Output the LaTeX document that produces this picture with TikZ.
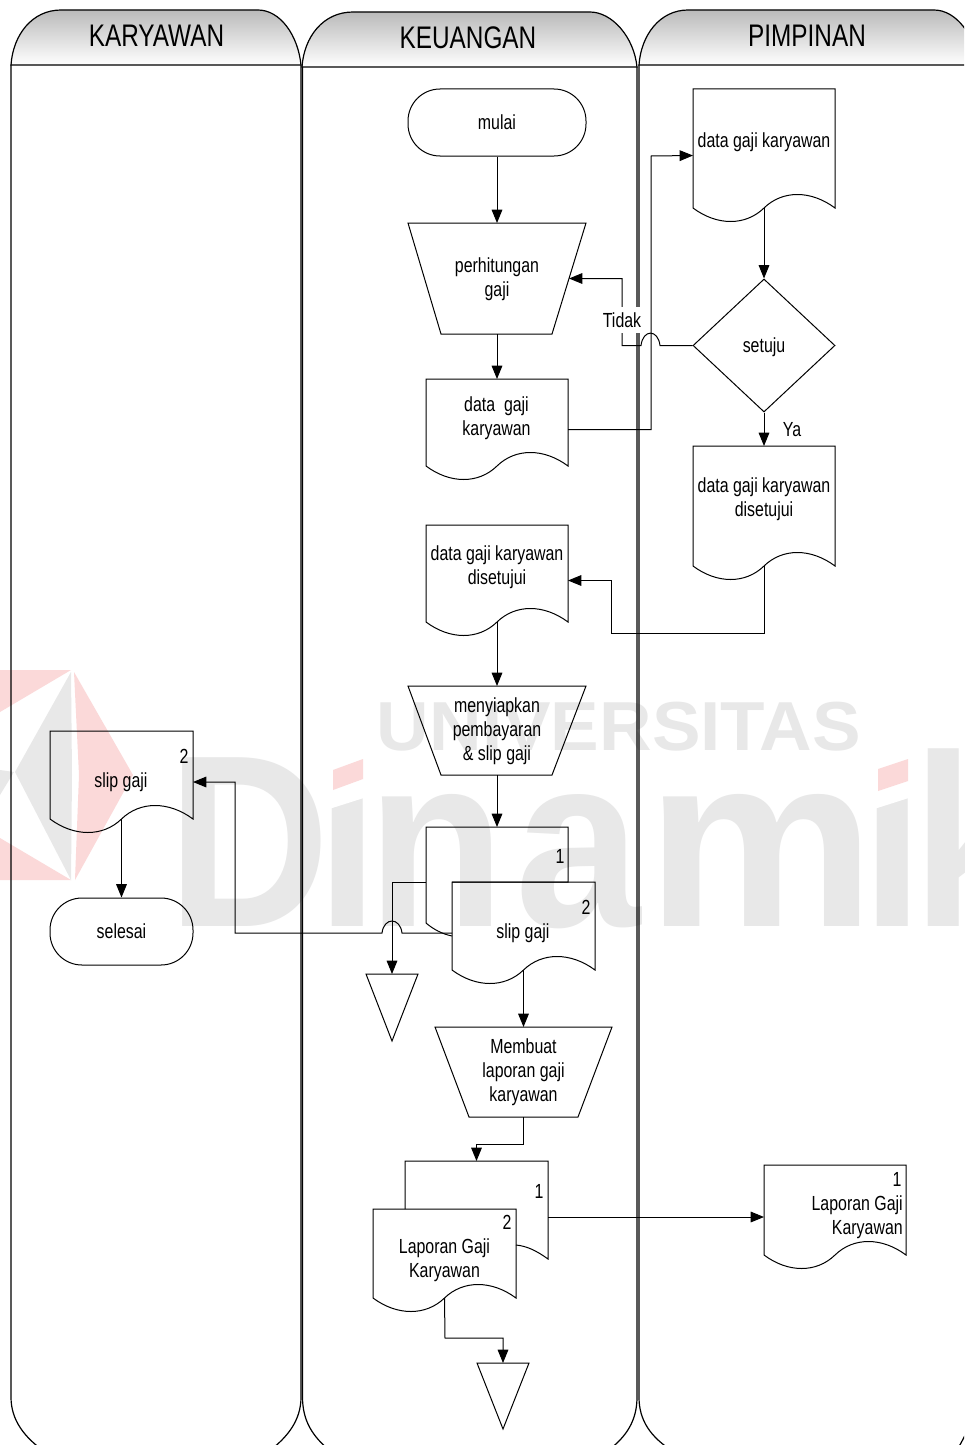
\documentclass[tikz,border=0pt]{standalone}
\usepackage{fontspec}
\usetikzlibrary{arrows.meta,shapes.geometric}
\setmainfont[FakeStretch=0.78]{Liberation Sans}
\newfontfamily\wmfont[FakeStretch=0.92]{Liberation Sans}
\newfontfamily\wmfontb[FakeStretch=1.05]{Liberation Sans}
\newcommand\lblfont{\fontsize{15.3}{18}\selectfont}
\newcommand\headfont{\fontsize{23.4}{26}\selectfont}
\definecolor{wmgray}{HTML}{E8E8E8}
\definecolor{wmred}{HTML}{FBD9D9}
\tikzset{
  px/.style={x=0.75pt,y=-0.75pt},
  outl/.style={draw=black,line width=0.75pt,line join=miter},
  lanel/.style={draw=black,line width=0.9pt},
  headsh/.style={draw=black,line width=0.9pt,top color=black!27,bottom color=white},
  flow/.style={draw=black,line width=0.75pt,-{Triangle[length=10pt,width=8pt]}},
  lbl/.style={font=\lblfont,align=center,inner sep=0pt,text=black},
  lblg/.style={lbl,yshift=-1.3pt},
  lblt/.style={lbl,yshift=-0.3pt},
  head/.style={font=\headfont,inner sep=0pt,text=black},
  anchorbox/.style={inner sep=0pt,outer sep=0pt,rectangle},
  term/.style={outl,rectangle,rounded corners=24pt,font=\lblfont,inner sep=0pt,minimum width=133.5pt,minimum height=50.25pt},
  wmbig/.style={text=wmgray,inner sep=0pt,anchor=base,font={\wmfont\bfseries\fontsize{184}{200}\selectfont}},
  wmbigw/.style={text=wmgray,inner sep=0pt,anchor=base,font={\wmfontb\bfseries\fontsize{184}{200}\selectfont}}
}
% name, x0, x1, ytop, ybase
\newcommand\docshape[5]{%
  \pgfmathsetmacro\dxm{(#2+#3)/2}%
  \pgfmathsetmacro\dw{#3-#2}%
  \draw[outl] (#2,#5) -- (#2,#4) -- (#3,#4) -- (#3,#5)
    .. controls ({#3-0.17*\dw},{#5-18}) and ({#3-0.37*\dw},{#5-18}) .. (\dxm,#5)
    .. controls ({#2+0.37*\dw},{#5+18}) and ({#2+0.17*\dw},{#5+18}) .. (#2,#5) -- cycle;
  \node[anchorbox,minimum width={(#3-#2)*0.75pt},minimum height={(#5+14-#4)*0.75pt}] (#1) at (\dxm,{(#4+#5+14)/2}) {};
  \coordinate (#1-w) at (\dxm,#5);
}
% name, xt0, xt1, xb0, xb1, ytop, ybot, text
\newcommand\trapshape[8]{%
  \draw[outl] (#2,#6) -- (#3,#6) -- (#5,#7) -- (#4,#7) -- cycle;
  \node[anchorbox,minimum width={(#3-#2)*0.75pt},minimum height={(#7-#6)*0.75pt}] (#1) at ({(#2+#3)/2},{(#6+#7)/2}) {};
  \node[lblt] (#1-t) at (#1.center) {#8};
  \coordinate (#1-e) at ({(#3+#5)/2},{(#6+#7)/2});
}
% name, x0, x1, ytop, yapex
\newcommand\triangleshape[5]{%
  \draw[outl] (#2,#4) -- (#3,#4) -- ({(#2+#3)/2},#5) -- cycle;
  \node[anchorbox,minimum width={(#3-#2)*0.75pt},minimum height={(#5-#4)*0.75pt}] (#1) at ({(#2+#3)/2},{(#4+#5)/2}) {};
}
\begin{document}
\begin{tikzpicture}[px]
\useasboundingbox (0,0) rectangle (964,1445);
\clip (0,0) rectangle (964,1445);
\fill[white] (0,0) rectangle (964,1445);
% watermark
\fill[wmred] (0,670) -- (71,670) -- (0,712) -- cycle;
\fill[wmred] (0,838) -- (71,880) -- (0,880) -- cycle;
\fill[wmgray] (71,672) -- (15,772) -- (71,880) -- (72,775) -- cycle;
\fill[wmgray] (0,770) -- (14,772) -- (0,795) -- cycle;
\fill[wmred] (74,672) -- (133,775) -- (75,880) -- (79,775) -- cycle;
\node[text=wmgray,inner sep=0pt,font={\wmfontb\bfseries\fontsize{52}{60}\selectfont}] (wmuni) at (619,727) {UNIVERSITAS};
\node[wmbig] (wmd) at (249,926) {D};
\node[wmbig] (wmi) at (348,926) {i};
\node[wmbig] (wmn) at (436,926) {n};
\node[wmbig] (wma) at (578,926) {a};
\node[wmbigw] (wmm) at (761,926) {m};
\node[wmbig] (wmj) at (893,926) {i};
\node[wmbig,anchor=base west] (wmk) at (912,926) {k};
\fill[white] (326,740) rectangle (370,797);
\fill[white] (326,796) -- (370,796) -- (326,810) -- cycle;
\fill[white] (871,740) rectangle (915,797);
\fill[white] (871,796) -- (915,796) -- (871,810) -- cycle;
\fill[wmred] (333,770) -- (363,759) -- (363,779) -- (333,790) -- cycle;
\fill[wmred] (878,769) -- (908,759) -- (908,781) -- (878,791) -- cycle;
% lanes
\shade[headsh] (11,65) .. controls (13,35) and (32,10) .. (61,10) -- (258,10) .. controls (280,10) and (298,35) .. (301,65) -- cycle;
\shade[headsh] (302,67) .. controls (304,37) and (323,12) .. (353,12) -- (590,12) .. controls (612,12) and (634,37) .. (637,67) -- cycle;
\shade[headsh] (639,65) .. controls (641,35) and (660,10) .. (688,10) -- (934,10) .. controls (956,10) and (975,35) .. (978,65) -- cycle;
\draw[lanel] (11,65) -- (11,1397) .. controls (11,1420) and (24,1437) .. (45,1452);
\draw[lanel] (301,65) -- (301,1397) .. controls (301,1420) and (288,1437) .. (268,1452);
\draw[lanel] (302.5,67) -- (302.5,1397) .. controls (302.5,1420) and (312,1437) .. (332,1452);
\draw[lanel] (637,67) -- (637,1397) .. controls (637,1420) and (627,1437) .. (606,1452);
\draw[lanel] (639,65) -- (639,1397) .. controls (639,1420) and (650,1437) .. (674,1452);
\draw[lanel] (978,1397) .. controls (978,1410) and (970,1427) .. (956,1452);
\node[head] (hkar) at (156.5,36) {KARYAWAN};
\node[head] (hkeu) at (468,38) {KEUANGAN};
\node[head] (hpim) at (807,36) {PIMPINAN};
% flow shapes
\node[term] (mulai) at (497,122.5) {mulai};
\trapshape{perh}{408}{586}{441}{552}{223}{334}{perhitungan\\gaji}
\docshape{dg1}{426}{568}{379}{466}
\node[lblg] (dg1t) at (496.5,416) {data\ \ gaji\\karyawan};
\docshape{dp1}{693}{835}{89}{208}
\node[lblg] (dp1t) at (764,140) {data gaji karyawan};
\node[outl,diamond,aspect=1.07,inner sep=0pt,minimum width=106.5pt,minimum height=99.75pt] (setuju) at (764,345.5) {};
\node[lblg] (setujut) at (setuju.center) {setuju};
\docshape{dp2}{693}{835}{446}{566}
\node[lblg] (dp2t) at (764,497.5) {data gaji karyawan\\disetujui};
\docshape{dgm}{426}{568}{525}{622}
\node[lblg] (dgmt) at (497,565) {data gaji karyawan\\disetujui};
\trapshape{siap}{408}{586}{441}{552}{686}{775}{menyiapkan\\pembayaran\\\& slip gaji}
% stacked slip gaji
\draw[outl] (452,882) -- (568,882) -- (568,827) -- (426,827) -- (426,923) .. controls (433,929) and (442,934) .. (452,936);
\node[anchorbox,minimum width=106.5pt,minimum height=82.5pt] (slip1) at (497,882) {};
\node[lbl] (slip1n) at (560,856) {1};
\docshape{slip2}{452}{595}{882}{970}
\node[lblg] (slip2t) at (523,931) {slip gaji};
\node[lbl] (slip2n) at (586,907) {2};
\triangleshape{tri1}{366}{418}{974}{1041}
\docshape{slipk}{50}{193}{731}{819}
\node[lblg] (slipkt) at (121,780) {slip gaji};
\node[lbl] (slipkn) at (184,756) {2};
\node[term,minimum width=107.25pt] (selesai) at (121.5,931.5) {selesai};
\trapshape{buat}{435}{612}{469}{578}{1027}{1117}{Membuat\\laporan gaji\\karyawan}
% stacked laporan
\draw[outl] (405,1209) -- (405,1161) -- (548,1161) -- (548,1259) .. controls (537,1251) and (527,1246) .. (516,1245);
\node[anchorbox,minimum width=107.25pt,minimum height=84pt] (lap1) at (476.5,1217) {};
\node[lbl] (lap1n) at (539,1191) {1};
\docshape{lap2}{373}{516}{1209}{1298}
\node[lblg] (lap2t) at (444.5,1258) {Laporan Gaji\\Karyawan};
\node[lbl] (lap2n) at (507,1222) {2};
\docshape{lapr}{764}{906}{1165}{1255}
\node[lbl] (laprn) at (897,1179) {1};
\node[lblg,align=right,anchor=east] (laprt) at (903,1215) {Laporan Gaji\\Karyawan};
\triangleshape{tri2}{477}{529}{1363}{1429}
% bends
\coordinate (b1) at (651,156);
\coordinate (h1) at (660,345.5);
\coordinate (h2) at (641,345.5);
\coordinate (t1) at (622,345.5);
\coordinate (b2) at (611,633);
\coordinate (h3) at (402,933);
\coordinate (h4) at (382,933);
\coordinate (b3) at (235,933);
\coordinate (k1) at (523.5,1144);
\coordinate (k2) at (445,1338);
% connectors
\draw[flow] (mulai) -- (perh);
\draw[flow] (perh) -- (dg1);
\draw[flow] (dg1.east) -| (b1) -- (dp1.west);
\draw[flow] (dp1-w) -- (setuju);
\draw[flow] (setuju.west) -- (h1) .. controls (658,329) and (643,329) .. (h2) -- (t1) |- (perh-e);
\draw[flow] (setuju) -- (dp2);
\draw[flow] (dp2-w) |- (b2) |- (dgm.east);
\draw[flow] (dgm-w) -- (siap);
\draw[flow] (siap) -- (slip1);
\draw[flow] (slip1.west) -| (tri1.north);
\draw[flow] (slip2.west) -- (h3) .. controls (400,917) and (384,917) .. (h4) -- (b3) |- (slipk.east);
\draw[flow] (slipk-w) -- (selesai);
\draw[flow] (slip2-w) -- (buat);
\draw[flow] (buat.south) -- (k1) -| (lap1.north);
\draw[flow] (lap1.east) -- (lapr.west);
\draw[flow] (lap2-w) -- (k2) -| (tri2.north);
% labels on connectors
\node[lbl,fill=white,minimum width=30pt,minimum height=20pt] (tidak) at (622,320) {Tidak};
\node[lbl,yshift=-0.7pt] (ya) at (792,429) {Ya};
\end{tikzpicture}
\end{document}
